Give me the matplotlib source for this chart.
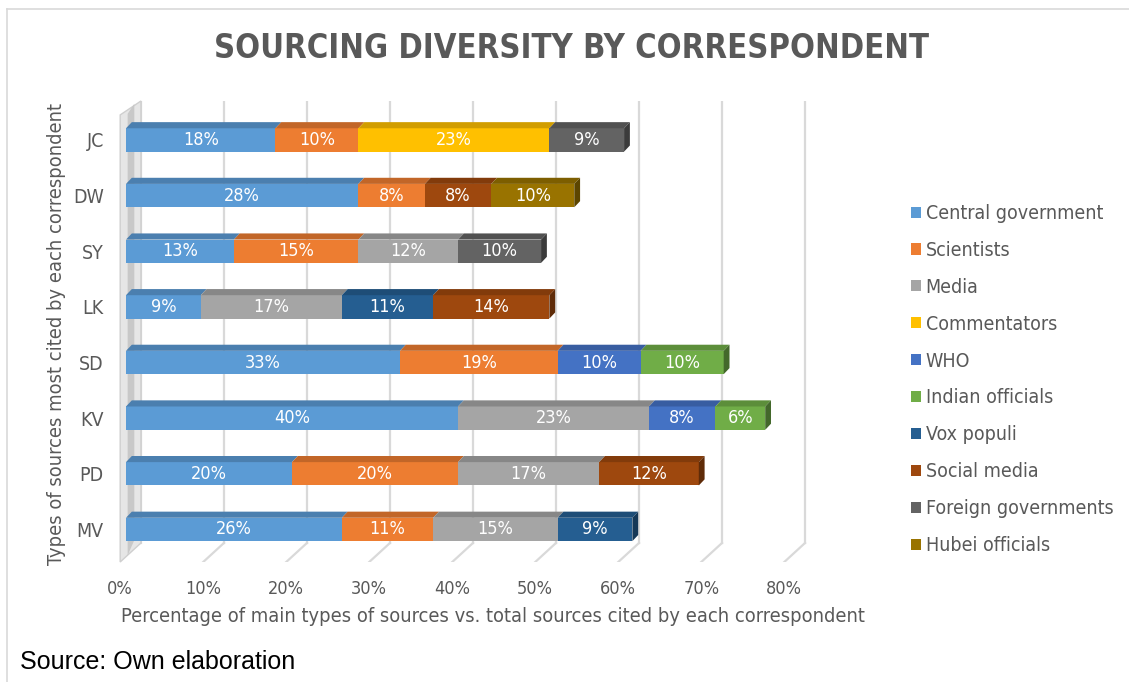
import matplotlib
matplotlib.use('Agg')
import matplotlib.pyplot as plt
from matplotlib.patches import Polygon, Patch
from matplotlib.lines import Line2D
import numpy as np

# correspondents, bottom to top
correspondents = ['MV', 'PD', 'KV', 'SD', 'LK', 'SY', 'DW', 'JC']

central = [26, 20, 40, 33, 9, 13, 28, 18]
scientists = [11, 20, 0, 19, 0, 15, 8, 10]
media = [15, 17, 23, 0, 17, 12, 0, 0]
commentators = [0, 0, 0, 0, 0, 0, 0, 23]
who = [0, 0, 8, 10, 0, 0, 0, 0]
indian = [0, 0, 6, 10, 0, 0, 0, 0]
vox = [9, 0, 0, 0, 11, 0, 0, 0]
social = [0, 12, 0, 0, 14, 0, 8, 0]
foreign = [0, 0, 0, 0, 0, 10, 0, 9]
hubei = [0, 0, 0, 0, 0, 0, 10, 0]

series_names = ['Central government', 'Scientists', 'Media', 'Commentators', 'WHO',
                'Indian officials', 'Vox populi', 'Social media',
                'Foreign governments', 'Hubei officials']
series = [central, scientists, media, commentators, who, indian, vox, social, foreign, hubei]
colors = ['#5B9BD5', '#ED7D31', '#A5A5A5', '#FFC000', '#4472C4',
          '#70AD47', '#255E91', '#9E480E', '#636363', '#997300']

xticks = [0, 10, 20, 30, 40, 50, 60, 70, 80]

W, H = 1129, 682
GREY = '#595959'
BODY = 'DejaVu Sans'


def shade(c, f):
    r, g, b = matplotlib.colors.to_rgb(c)
    return (r * f, g * f, b * f)


fig = plt.figure(figsize=(W / 100, H / 100), dpi=100)
ax = fig.add_axes([117.7 / W, 120 / H, 697.3 / W, 461 / H])
ax.set_xlim(-1, 83)
ax.set_ylim(-0.585, 7.7)
for s in ax.spines.values():
    s.set_visible(False)

# pseudo 3d geometry
front_dx, back_dx = -0.7, 1.8
floor_front, floor_back = -0.585, -0.243
bar_h, top_dx, top_dy = 0.42, 0.7, 0.11

# gridlines on back wall and floor
for v in xticks:
    ax.plot([v + back_dx, v + back_dx], [floor_back, 7.7], color='#d9d9d9', lw=1.6, zorder=0)
    if v > 0:
        ax.plot([v + front_dx, v + back_dx], [floor_front, floor_back], color='#d9d9d9', lw=1.6, zorder=0)

# left side wall
ax.add_patch(Polygon([(front_dx, floor_front), (back_dx, floor_back), (back_dx, 7.7),
                      (front_dx, 7.45)], closed=True, facecolor='#e6e6e6',
                     edgecolor='#cfcfcf', lw=1, zorder=1, clip_on=False))
ax.add_patch(Polygon([(0.2, floor_front + 0.12), (1.0, floor_back + 0.05), (1.0, 7.65),
                      (0.2, 7.47)], closed=True, facecolor='#c8c8c8',
                     edgecolor='none', zorder=1, clip_on=False))

y = np.arange(len(correspondents))
left = np.zeros(len(correspondents))
last_color = [None] * len(correspondents)
for name, vals, col in zip(series_names, series, colors):
    vals = np.array(vals, dtype=float)
    ax.barh(y, vals, left=left, height=bar_h, color=col, edgecolor='none', zorder=3)
    for i, v in enumerate(vals):
        if v <= 0:
            continue
        l, r = left[i], left[i] + v
        t = y[i] + bar_h / 2
        ax.add_patch(Polygon([(l, t), (r, t), (r + top_dx, t + top_dy), (l + top_dx, t + top_dy)],
                             closed=True, facecolor=shade(col, 0.82), edgecolor='none', zorder=3))
        ax.text((l + r) / 2, y[i], f'{int(v)}%', ha='center', va='center', color='white',
                fontsize=13, family=BODY, fontstretch='condensed', zorder=5)
        last_color[i] = col
    left = left + vals

# right faces of the last segment
for i in range(len(correspondents)):
    r = left[i]
    b, t = y[i] - bar_h / 2, y[i] + bar_h / 2
    ax.add_patch(Polygon([(r, b), (r + top_dx, b + top_dy), (r + top_dx, t + top_dy), (r, t)],
                         closed=True, facecolor=shade(last_color[i], 0.6), edgecolor='none', zorder=3))

ax.set_yticks(y)
ax.set_yticklabels(correspondents)
ax.set_xticks([v + front_dx for v in xticks])
ax.set_xticklabels([f'{v}%' for v in xticks])
ax.tick_params(axis='both', length=0, colors=GREY)
ax.tick_params(axis='x', pad=13, labelsize=13)
ax.tick_params(axis='y', pad=10, labelsize=14)
for lab in ax.get_xticklabels() + ax.get_yticklabels():
    lab.set_family(BODY)
    lab.set_fontstretch('condensed')

fig.text(493 / W, 1 - 617 / H, 'Percentage of main types of sources vs. total sources cited by each correspondent',
         ha='center', va='center', color=GREY, fontsize=14.4, family=BODY, fontstretch='condensed')
fig.text(57 / W, 1 - 334 / H, 'Types of sources most cited by each correspondent',
         ha='center', va='center', rotation=90, color=GREY, fontsize=14.4, family=BODY,
         fontstretch='condensed')
fig.text(572 / W, 1 - 48 / H, 'SOURCING DIVERSITY BY CORRESPONDENT', ha='center', va='center',
         color=GREY, fontsize=23.5, fontweight='bold', family=BODY, fontstretch='condensed')

handles = [Patch(facecolor=c, edgecolor='none') for c in colors]
leg = fig.legend(handles, series_names, loc='upper left', bbox_to_anchor=(911 / W, 1 - 204 / H),
                 frameon=False, handlelength=0.5, handleheight=0.5, handletextpad=0.25,
                 labelspacing=0.92, borderaxespad=0, borderpad=0,
                 prop={'family': BODY, 'size': 14, 'stretch': 'condensed'})
for t in leg.get_texts():
    t.set_color(GREY)

fig.text(20 / W, 1 - 662 / H, 'Source: Own elaboration', ha='left', va='center',
         color='black', fontsize=18, family='Liberation Sans')

# outer frame
fig.add_artist(Line2D([7 / W, 7 / W], [0, 1 - 9 / H], transform=fig.transFigure, color='#d9d9d9', lw=1.2))
fig.add_artist(Line2D([7 / W, 1], [1 - 9 / H, 1 - 9 / H], transform=fig.transFigure, color='#d9d9d9', lw=1.2))

fig.savefig('out.png', dpi=100)
